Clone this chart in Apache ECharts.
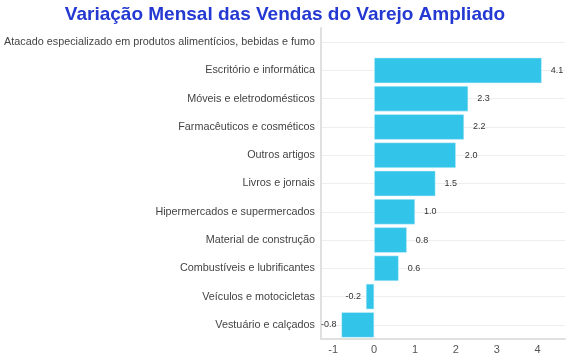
<!DOCTYPE html>
<html><head><meta charset="utf-8">
<script src="https://cdn.jsdelivr.net/npm/echarts@6/dist/echarts.min.js"></script>
<style>html,body{margin:0;padding:0;background:#fff}#c{width:570px;height:360px}</style>
</head><body><div id="c"></div>
<script>
const categories = [
  'Atacado especializado em produtos alimentícios, bebidas e fumo',
  'Escritório e informática',
  'Móveis e eletrodomésticos',
  'Farmacêuticos e cosméticos',
  'Outros artigos',
  'Livros e jornais',
  'Hipermercados e supermercados',
  'Material de construção',
  'Combustíveis e lubrificantes',
  'Veículos e motocicletas',
  'Vestuário e calçados'
];
const values = [null, 4.1, 2.3, 2.2, 2.0, 1.5, 1.0, 0.8, 0.6, -0.2, -0.8];
const xTicks = [-1, 0, 1, 2, 3, 4];

const FONT = 'Liberation Sans, Arial, sans-serif';
const chart = echarts.init(document.getElementById('c'));
chart.setOption({
  animation: false,
  title: {
    text: 'Variação Mensal das Vendas do Varejo Ampliado',
    left: 'center', top: 0,
    textStyle: {fontFamily: FONT, fontSize: 19, fontWeight: 'bold', color: '#2438d2'}
  },
  grid: {left: 321, right: 5, top: 28, bottom: 21, containLabel: false, outerBoundsMode: 'none'},
  xAxis: {
    type: 'value', min: -1.3, max: 4.67,
    axisLine: {show: true, onZero: false, lineStyle: {color: '#e0e0e0', width: 2}},
    axisTick: {show: false},
    splitLine: {show: false},
    axisLabel: {customValues: xTicks, color: '#555', fontSize: 11, fontFamily: FONT, margin: 5}
  },
  yAxis: {
    type: 'category', data: categories, inverse: true,
    axisLine: {show: true, onZero: false, lineStyle: {color: '#e0e0e0', width: 2}},
    axisTick: {show: false},
    splitLine: {show: true, alignWithLabel: true, lineStyle: {color: '#eeeeee', width: 1}},
    axisLabel: {color: '#444', fontSize: 10.8, fontFamily: FONT, margin: 6}
  },
  series: [{
    type: 'bar',
    data: values.map(v => v != null && v < 0 ? {value: v, label: {position: 'left', distance: 5}} : v),
    barCategoryGap: '10%',
    itemStyle: {color: '#33c4ea', borderColor: '#d8f3fb', borderWidth: 0.5},
    label: {
      show: true, position: 'right', distance: 9,
      fontSize: 9, color: '#333', fontFamily: FONT,
      formatter: p => (p.value == null ? '' : p.value.toFixed(1))
    }
  }]
});
</script></body></html>
